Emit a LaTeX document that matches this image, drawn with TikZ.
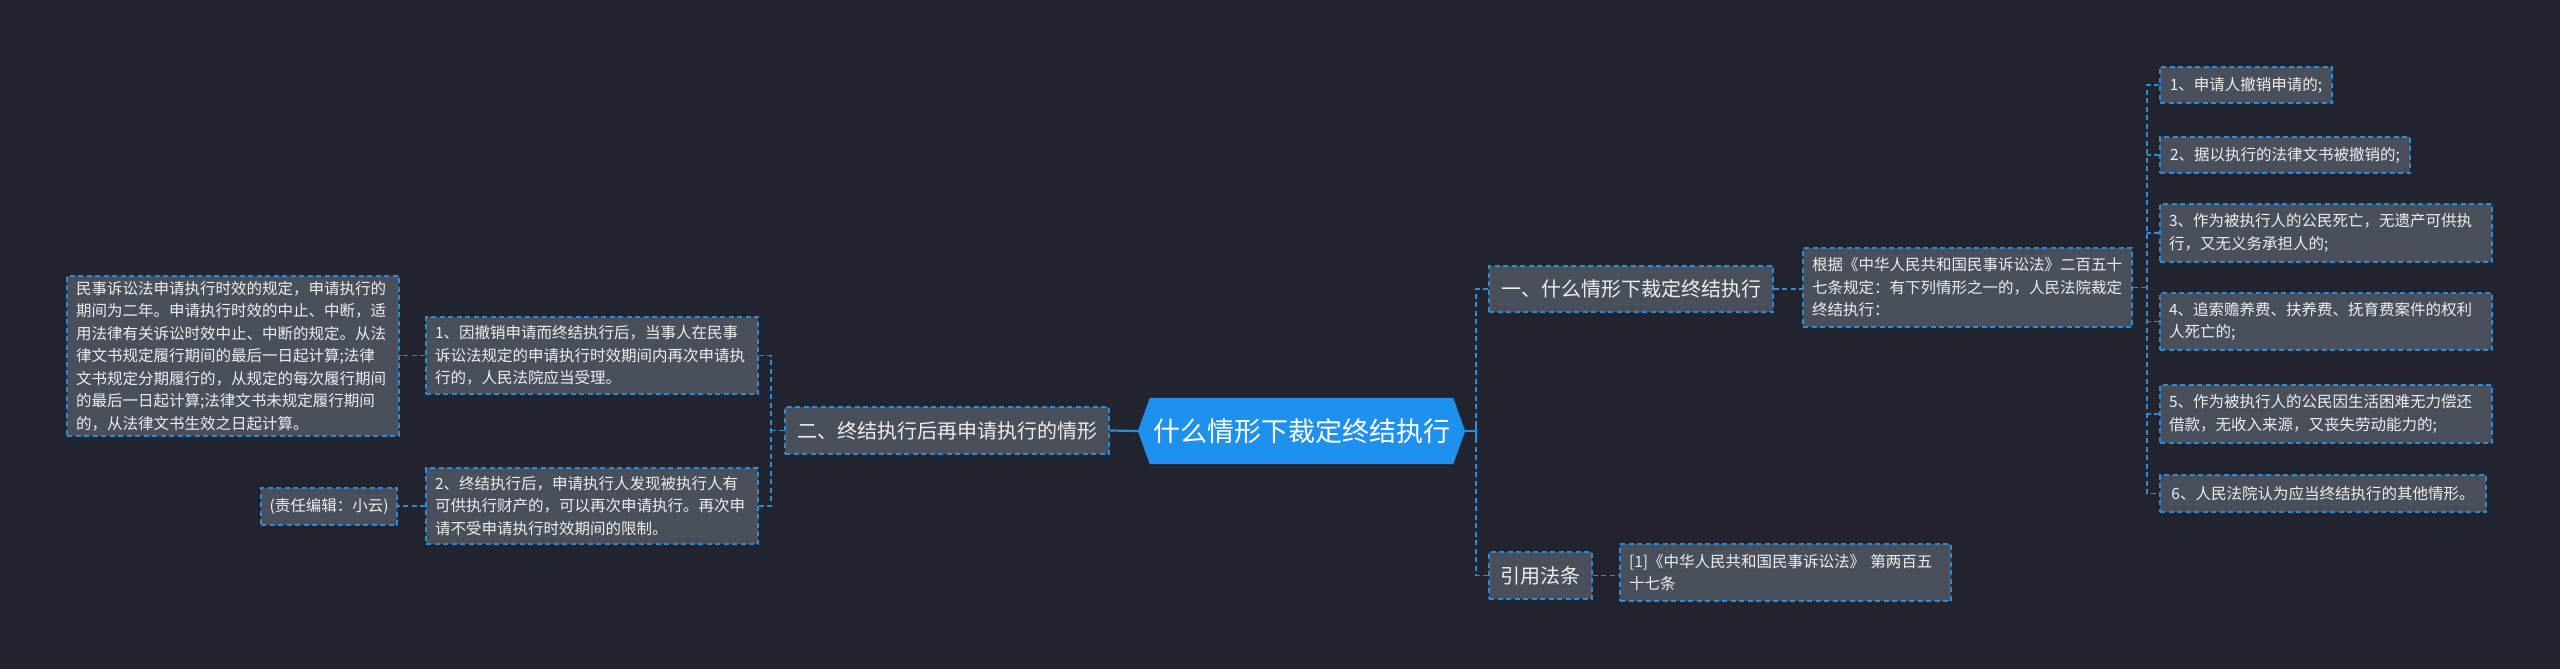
\documentclass[tikz,border=0pt]{standalone}
\usepackage{fontspec}
\setmainfont{Noto Sans CJK SC}
\usetikzlibrary{calc}
\definecolor{bgc}{HTML}{22252F}
\definecolor{nodefill}{HTML}{4A4F5C}
\definecolor{lineblue}{HTML}{2B8CDB}
\definecolor{rootfill}{HTML}{1E90EE}
\definecolor{txt}{HTML}{EEEEEE}
\pgfdeclarelayer{bg}
\pgfsetlayers{bg,main}
\newcommand{\leaffont}{\fontsize{15.5}{22.5}\selectfont}
\newcommand{\midfont}{\fontsize{20}{26}\selectfont}
\newcommand{\rootfont}{\fontsize{27}{32}\selectfont}
\tikzset{
  x=1pt, y=-1pt,
  box/.style={draw=lineblue, line width=1.3pt, dash pattern=on 5pt off 3.5pt,
    fill=nodefill, text=txt, inner xsep=9pt, inner ysep=5pt, align=left},
  leafbox/.style={box, font=\leaffont},
  midbox/.style={box, font=\midfont},
  conn/.style={draw=lineblue, line width=1.3pt, dash pattern=on 5pt off 3.5pt},
  solidconn/.style={draw=lineblue, line width=2.2pt},
}
\begin{document}
\begin{tikzpicture}
\begin{pgfonlayer}{bg}
\fill[bgc] (0,0) rectangle (2560,669);
\end{pgfonlayer}
\useasboundingbox (0,0) rectangle (2560,669);

% root
\node[text=white, font=\rootfont, minimum width=327, minimum height=66, inner sep=0pt] (root) at (1301.5,431) {什么情形下裁定终结执行};
\begin{pgfonlayer}{bg}
\fill[rootfill] (root.west) -- ([xshift=12pt]root.north west) -- ([xshift=-12pt]root.north east) -- (root.east) -- ([xshift=-12pt]root.south east) -- ([xshift=12pt]root.south west) -- cycle;
\end{pgfonlayer}

% left branch
\node[midbox, minimum width=324, minimum height=47] (n2) at (947,430.5) {二、终结执行后再申请执行的情形};
\node[leafbox, text width=314, minimum height=77] (L1) at (592,355.5) {1、因撤销申请而终结执行后，当事人在民事\\诉讼法规定的申请执行时效期间内再次申请执\\行的，人民法院应当受理。};
\node[leafbox, text width=314, minimum height=76] (L2) at (592,506) {2、终结执行后，申请执行人发现被执行人有\\可供执行财产的，可以再次申请执行。再次申\\请不受申请执行时效期间的限制。};
\node[leafbox, text width=314, minimum height=158] (L0) at (233,356) {民事诉讼法申请执行时效的规定，申请执行的\\期间为二年。申请执行时效的中止、中断，适\\用法律有关诉讼时效中止、中断的规定。从法\\律文书规定履行期间的最后一日起计算;法律\\文书规定分期履行的，从规定的每次履行期间\\的最后一日起计算;法律文书未规定履行期间\\的，从法律文书生效之日起计算。};
\node[leafbox, minimum width=136, minimum height=37, inner xsep=2pt] (ed) at (329,506.5) {(责任编辑：小云)};

% right branch
\node[midbox, minimum width=284, minimum height=46] (r1) at (1631,289) {一、什么情形下裁定终结执行};
\node[leafbox, text width=311, minimum height=79] (gj) at (1967.5,287.5) {根据《中华人民共和国民事诉讼法》二百五十\\七条规定：有下列情形之一的，人民法院裁定\\终结执行：};
\node[midbox, minimum width=103, minimum height=47, inner xsep=4pt] (ref) at (1540.5,575.5) {引用法条};
\node[leafbox, text width=313, minimum height=57] (cite) at (1785.5,572.5) {[1]《中华人民共和国民事诉讼法》 第两百五\\十七条};

\node[leafbox, minimum width=172, minimum height=36, inner xsep=4pt] (lf1) at (2246,85) {1、申请人撤销申请的;};
\node[leafbox, minimum width=250, minimum height=36, inner xsep=4pt] (lf2) at (2285,155) {2、据以执行的法律文书被撤销的;};
\node[leafbox, text width=314, minimum height=58] (lf3) at (2326,233) {3、作为被执行人的公民死亡，无遗产可供执\\行，又无义务承担人的;};
\node[leafbox, text width=314, minimum height=57] (lf4) at (2326,321.5) {4、追索赡养费、扶养费、抚育费案件的权利\\人死亡的;};
\node[leafbox, text width=314, minimum height=58] (lf5) at (2326,414) {5、作为被执行人的公民因生活困难无力偿还\\借款，无收入来源，又丧失劳动能力的;};
\node[leafbox, minimum width=326, minimum height=37, inner xsep=4pt] (lf6) at (2323,493.5) {6、人民法院认为应当终结执行的其他情形。};

% connectors: root
\coordinate (bR) at (1476,431);
\draw[solidconn] (root.east) -- (bR);
\draw[solidconn] ($(bR)+(0,-7)$) -- ($(bR)+(0,7)$);
\draw[conn] (r1.west) -- (r1.west -| bR) -- (ref.west -| bR) -- (ref.west);
\draw[solidconn] (root.west) -- (n2.east);

% left bus
\coordinate (bL) at (771,430.5);
\draw[conn] (n2.west) -- (bL);
\draw[conn] (L1.east) -- (L1.east -| bL) -- (L2.east -| bL) -- (L2.east);
\draw[conn] (L1.west) -- (L0.east |- L1.west);
\draw[conn] (L2.west) -- (ed.east |- L2.west);

% right
\draw[conn] (r1.east) -- (gj.west |- r1.east);
\draw[conn] (ref.east) -- (cite.west |- ref.east);
\coordinate (bG) at (2147,287.5);
\draw[conn] (gj.east) -- (bG);
\draw[conn] (lf1.west) -- (lf1.west -| bG) -- (lf6.west -| bG) -- (lf6.west);
\foreach \n in {lf2,lf3,lf4,lf5} {\draw[conn] (\n.west) -- (\n.west -| bG);}
\end{tikzpicture}
\end{document}
